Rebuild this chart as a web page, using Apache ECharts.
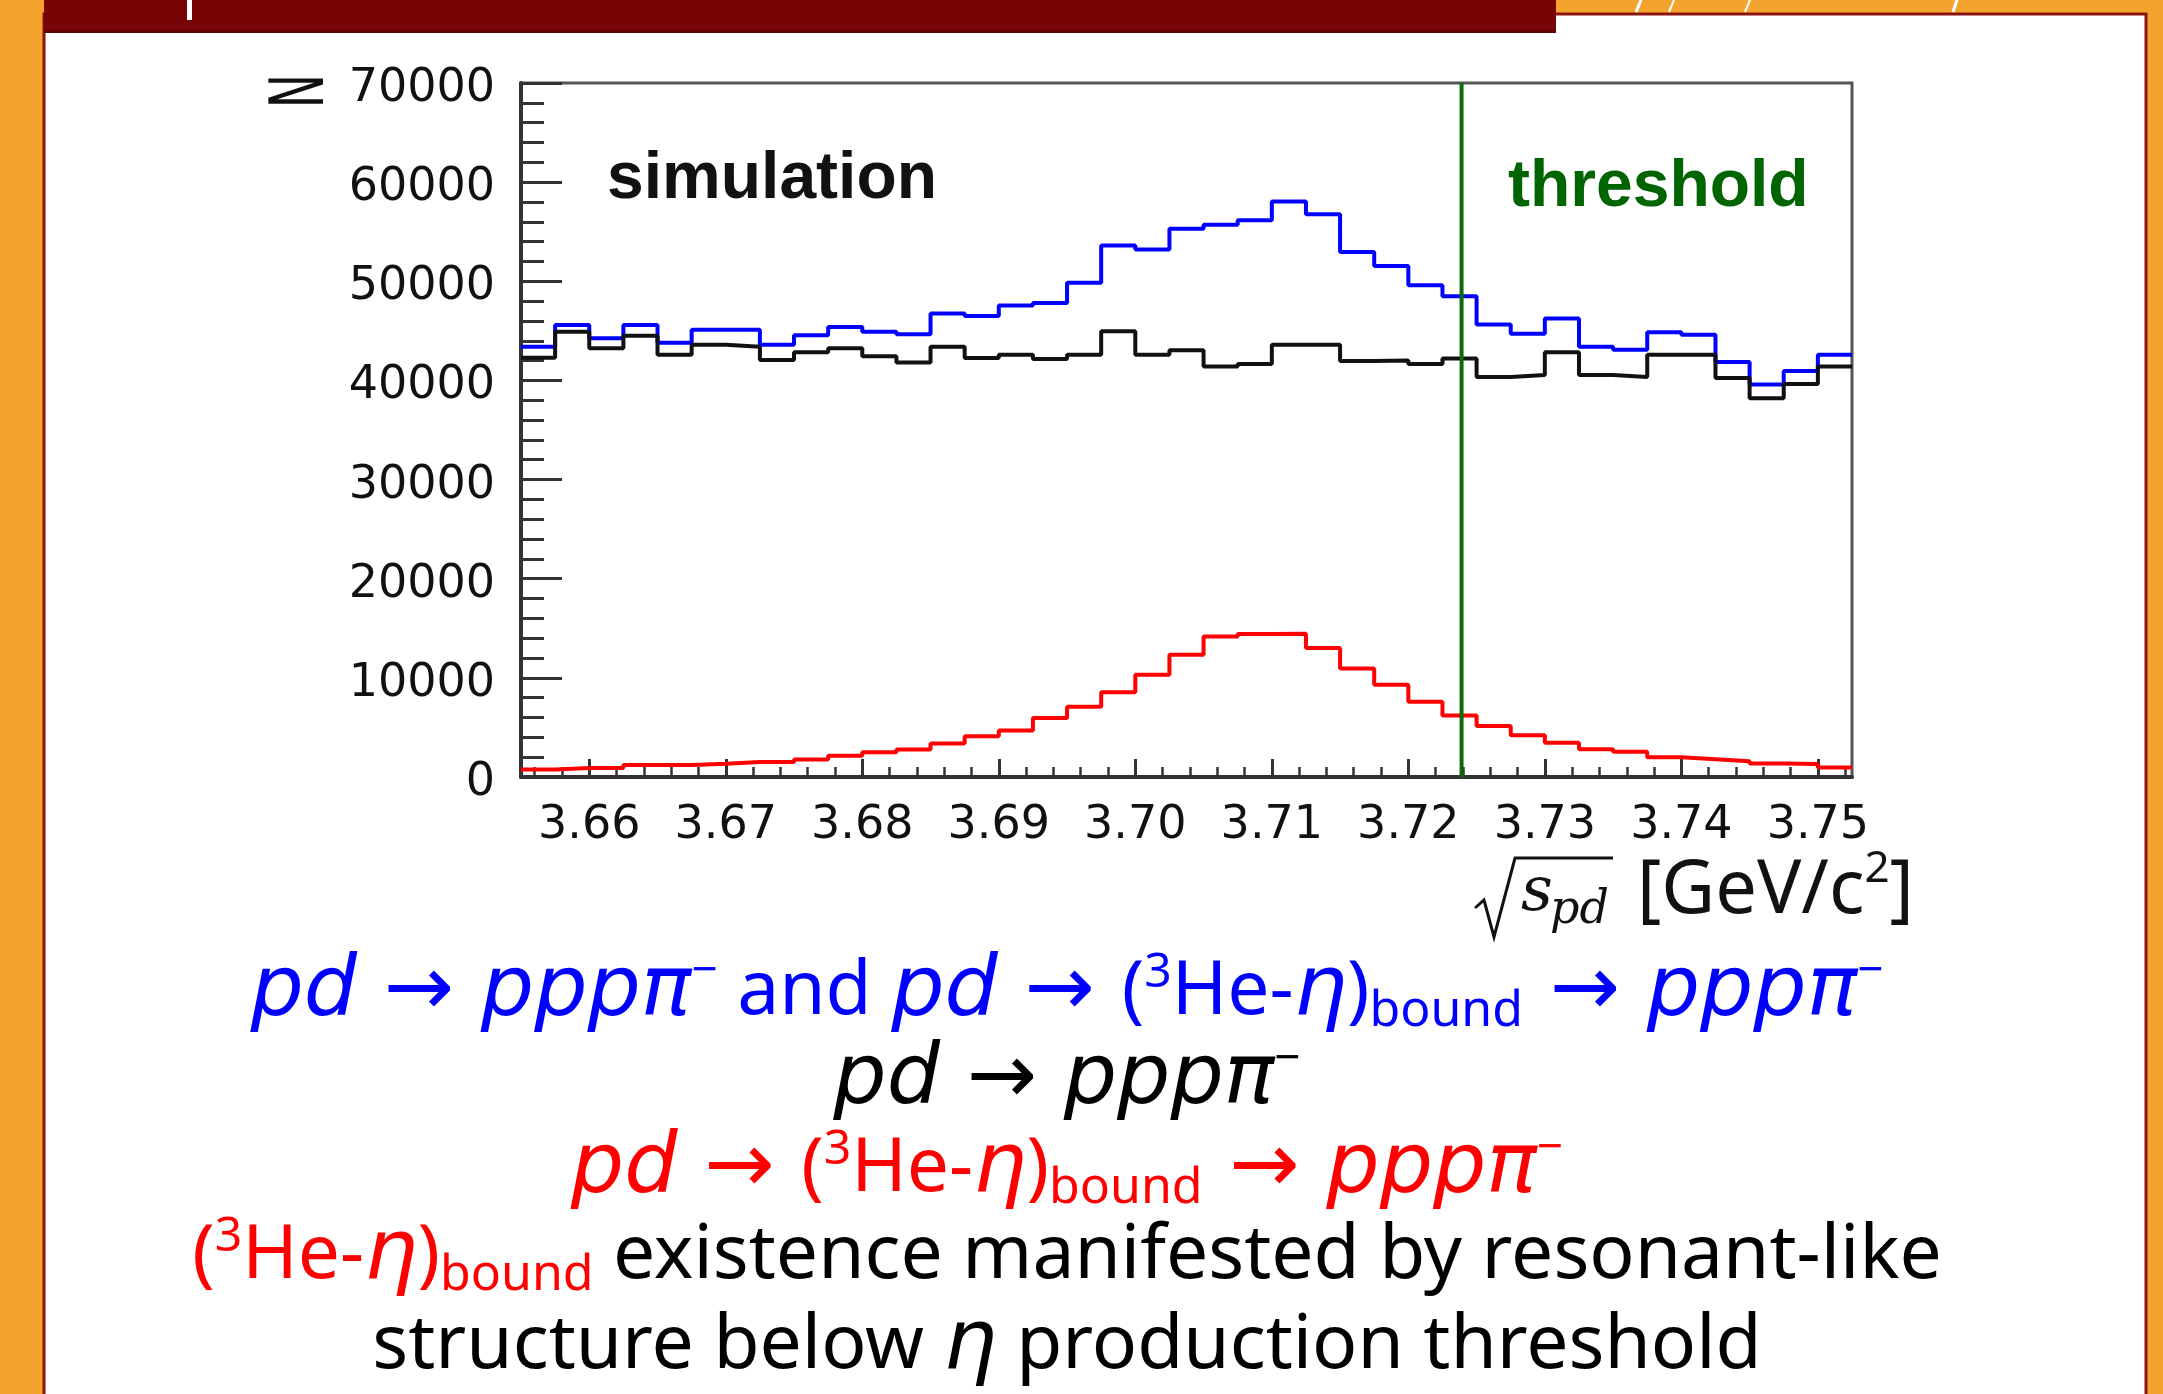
<!DOCTYPE html>
<html>
<head>
<meta charset="utf-8">
<title>pd -> ppp pi- simulation</title>
<script src="https://cdn.jsdelivr.net/npm/echarts@6/dist/echarts.min.js"></script>
<style>
  html, body { margin: 0; padding: 0; background: #f4a32f; }
  #chart { width: 2163px; height: 1394px; }
</style>
</head>
<body>
<div id="chart"></div>
<script>
// bin edges of sqrt(s_pd) [GeV/c^2]; last entry closes the last bin
const binEdges = [
  3.6550, 3.6575, 3.6600, 3.6625, 3.6650, 3.6675, 3.6700, 3.6725, 3.6750, 3.6775,
  3.6800, 3.6825, 3.6850, 3.6875, 3.6900, 3.6925, 3.6950, 3.6975, 3.7000, 3.7025,
  3.7050, 3.7075, 3.7100, 3.7125, 3.7150, 3.7175, 3.7200, 3.7225, 3.7250, 3.7275,
  3.7300, 3.7325, 3.7350, 3.7375, 3.7400, 3.7425, 3.7450, 3.7475, 3.7500, 3.7525
];

// blue: pd -> ppp pi- plus bound-state signal
const sumCounts = [
  43400, 45600, 44250, 45600, 43800, 45100, 45100, 43600, 44550, 45400,
  44900, 44650, 46750, 46500, 47550, 47800, 49850, 53600, 53200, 55300,
  55700, 56150, 58050, 56750, 52950, 51550, 49600, 48500, 45650, 44700,
  46250, 43400, 43100, 44850, 44600, 41850, 39600, 40950, 42600
];

// black: pd -> ppp pi- only
const bgCounts = [
  42300, 44900, 43250, 44500, 42600, 43600, 43400, 42050, 42850, 43250,
  42450, 41800, 43400, 42250, 42600, 42150, 42600, 44950, 42600, 43050,
  41400, 41650, 43600, 43600, 41950, 42000, 41650, 42200, 40350, 40550,
  42850, 40550, 40350, 42600, 42600, 40250, 38200, 39650, 41400
];

// red: pd -> (3He-eta)bound -> ppp pi-
const boundCounts = [
  750, 920, 920, 1200, 1200, 1330, 1520, 1520, 1770, 2150,
  2500, 2780, 3380, 4100, 4700, 5950, 7080, 8550, 10320, 12330,
  14180, 14420, 14450, 13000, 10950, 9300, 7600, 6200, 5150, 4200,
  3450, 2800, 2550, 2000, 1800, 1600, 1350, 1300, 950
];

const xTickLabels = [3.66, 3.67, 3.68, 3.69, 3.70, 3.71, 3.72, 3.73, 3.74, 3.75];
const yTickLabels = [0, 10000, 20000, 30000, 40000, 50000, 60000, 70000];
const thresholdX = 3.7239;

const xMinorTicks = [];
for (let k = 0; k <= 48; k++) xMinorTicks.push(+(3.656 + k * 0.002).toFixed(3));

// step-histogram points: left edge of every bin, plus the closing right edge
function histPoints(counts) {
  const pts = counts.map((v, i) => [binEdges[i], v]);
  pts.push([binEdges[counts.length], counts[counts.length - 1]]);
  return pts;
}

const FONT = "'Noto Sans', 'DejaVu Sans', sans-serif";
const ITAL = "'DejaVu Sans', sans-serif";
const TICK_FONT = "'DejaVu Sans', sans-serif";

function richFor(key, color) {
  const r = {};
  r['n' + key] = { fontFamily: FONT, fontSize: 75, lineHeight: 88, fill: color };
  r['i' + key] = { fontFamily: ITAL, fontSize: 84, lineHeight: 88, fontStyle: 'italic', fill: color };
  r['a' + key] = { fontFamily: ITAL, fontSize: 84, lineHeight: 88, fill: color };
  r['p' + key] = { fontFamily: FONT, fontSize: 48, lineHeight: 34, verticalAlign: 'top', fill: color };
  r['m' + key] = { fontFamily: FONT, fontSize: 46, lineHeight: 50, verticalAlign: 'top', fill: color };
  r['b' + key] = { fontFamily: FONT, fontSize: 50, lineHeight: 6, verticalAlign: 'bottom', fill: color };
  return r;
}
const rich = Object.assign({}, richFor('B', '#0000ff'), richFor('K', '#000000'), richFor('R', '#ff0000'));

function textLine(y, text) {
  return {
    type: 'text', x: 1067, y: y, z: 100,
    style: { text: text, rich: rich, align: 'center', verticalAlign: 'middle', fontFamily: FONT, fontSize: 75 }
  };
}

const chart = echarts.init(document.getElementById('chart'));

chart.setOption({
  backgroundColor: '#f4a32f',
  animation: false,
  grid: {
    left: 521, right: 311, top: 83, bottom: 617,
    show: true, backgroundColor: '#ffffff', borderColor: '#555555', borderWidth: 3
  },
  xAxis: [{
    type: 'value', min: 3.655, max: 3.7525,
    axisLine: { show: true, lineStyle: { color: '#333333', width: 4 } },
    axisTick: { show: true, inside: true, length: 18, customValues: xTickLabels, lineStyle: { color: '#333333', width: 3 } },
    axisLabel: {
      customValues: xTickLabels, margin: 26, fontSize: 46, fontFamily: TICK_FONT, color: '#111111',
      formatter: v => v.toFixed(2)
    },
    splitLine: { show: false }
  }, {
    type: 'value', min: 3.655, max: 3.7525, position: 'bottom',
    axisLine: { show: false },
    axisTick: { show: true, inside: true, length: 10, customValues: xMinorTicks, lineStyle: { color: '#333333', width: 2.5 } },
    axisLabel: { show: false },
    splitLine: { show: false }
  }],
  yAxis: {
    type: 'value', min: 0, max: 70000, interval: 10000,
    axisLine: { show: true, lineStyle: { color: '#333333', width: 4 } },
    axisTick: { show: true, inside: true, length: 41, lineStyle: { color: '#333333', width: 3 } },
    minorTick: { show: true, splitNumber: 5, length: 23, lineStyle: { color: '#333333', width: 3 } },
    axisLabel: {
      customValues: yTickLabels, margin: 26,
      formatter: v => '{v|' + v + '}',
      rich: { v: { fontSize: 46, fontFamily: TICK_FONT, color: '#111111', padding: [12, 0, 0, 0] } }
    },
    splitLine: { show: false }
  },
  series: [{
    name: 'pd → pppπ⁻ + bound', type: 'line', step: 'end', symbol: 'none',
    data: histPoints(sumCounts),
    lineStyle: { color: '#0000ff', width: 4 }, z: 3
  }, {
    name: 'pd → pppπ⁻', type: 'line', step: 'end', symbol: 'none',
    data: histPoints(bgCounts),
    lineStyle: { color: '#111111', width: 4 }, z: 4
  }, {
    name: 'bound', type: 'line', step: 'end', symbol: 'none',
    data: histPoints(boundCounts),
    lineStyle: { color: '#ff0000', width: 4 }, z: 4
  }, {
    name: 'threshold', type: 'line', symbol: 'none', silent: true,
    data: [[thresholdX, 0], [thresholdX, 70000]],
    lineStyle: { color: '#0b6b0b', width: 4 }, z: 5
  }],
  graphic: { elements: [
    // slide frame
    { type: 'rect', z: -10, shape: { x: 44, y: 14, width: 2102, height: 1400 },
      style: { fill: '#ffffff', stroke: '#8a1410', lineWidth: 3 } },
    { type: 'rect', z: -9, shape: { x: 44, y: 0, width: 1512, height: 32 },
      style: { fill: '#780505' } },
    { type: 'rect', z: -9, shape: { x: 44, y: 30, width: 1512, height: 3 },
      style: { fill: '#5e0202' } },
    { type: 'rect', z: -8, shape: { x: 187, y: 0, width: 5, height: 20 },
      style: { fill: '#ffffff' } },
    { type: 'line', z: -8, shape: { x1: 1641, y1: 0, x2: 1636, y2: 12 }, style: { stroke: '#ffffff', lineWidth: 3 } },
    { type: 'line', z: -8, shape: { x1: 1674, y1: 0, x2: 1669, y2: 12 }, style: { stroke: '#ffffff', lineWidth: 2 } },
    { type: 'line', z: -8, shape: { x1: 1750, y1: 0, x2: 1745, y2: 12 }, style: { stroke: '#ffffff', lineWidth: 2 } },
    { type: 'line', z: -8, shape: { x1: 1957, y1: 0, x2: 1953, y2: 12 }, style: { stroke: '#ffffff', lineWidth: 3 } },

    // labels inside the plot
    { type: 'text', x: 607, y: 180, z: 100,
      style: { text: 'simulation', fill: '#111111', fontFamily: "'Liberation Sans', Arial, sans-serif",
               fontWeight: 'bold', fontSize: 66, align: 'left', verticalAlign: 'middle' } },
    { type: 'text', x: 1508, y: 188, z: 100,
      style: { text: 'threshold', fill: '#006400', fontFamily: "'Liberation Sans', Arial, sans-serif",
               fontWeight: 'bold', fontSize: 66, align: 'left', verticalAlign: 'middle' } },

    // y axis title
    { type: 'text', x: 304, y: 91, z: 100, rotation: Math.PI / 2, scaleX: 0.62,
      style: { text: 'N', fill: '#111111', fontFamily: TICK_FONT, fontSize: 74, align: 'center', verticalAlign: 'middle' } },

    // x axis title: sqrt(s_pd) [GeV/c^2]
    { type: 'polyline', z: 100,
      shape: { points: [[1475, 908], [1484, 900], [1494, 937], [1515, 858], [1613, 858]] },
      style: { stroke: '#111111', lineWidth: 3, fill: null } },
    { type: 'text', x: 1521, y: 894, z: 100,
      style: { text: 's', fill: '#111111', fontFamily: "'DejaVu Serif', serif", fontStyle: 'italic',
               fontSize: 62, align: 'left', verticalAlign: 'middle' } },
    { type: 'text', x: 1550, y: 911, z: 100,
      style: { text: 'pd', fill: '#111111', fontFamily: "'DejaVu Serif', serif", fontStyle: 'italic',
               fontSize: 46, align: 'left', verticalAlign: 'middle' } },
    { type: 'text', x: 1637, y: 892, z: 100,
      style: {
        text: '{u|[GeV/c}{e|2}{u|]}', align: 'left', verticalAlign: 'middle',
        rich: {
          u: { fontFamily: FONT, fontSize: 74, lineHeight: 90, fill: '#111111' },
          e: { fontFamily: FONT, fontSize: 44, lineHeight: 58, verticalAlign: 'top', fill: '#111111' }
        }
      } },

    // caption lines
    textLine(993, '{iB|pd}{aB| → }{iB|pppπ}{mB|−}{nB| and }{iB|pd}{aB| → }{nB|(}{pB|3}{nB|He-}{iB|η}{nB|)}{bB|bound}{aB| → }{iB|pppπ}{mB|−}'),
    textLine(1081, '{iK|pd}{aK| → }{iK|pppπ}{mK|−}'),
    textLine(1170, '{iR|pd}{aR| → }{nR|(}{pR|3}{nR|He-}{iR|η}{nR|)}{bR|bound}{aR| → }{iR|pppπ}{mR|−}'),
    textLine(1257, '{nR|(}{pR|3}{nR|He-}{iR|η}{nR|)}{bR|bound}{nK| existence manifested by resonant-like}'),
    textLine(1347, '{nK|structure below }{iK|η}{nK| production threshold}')
  ] }
});
</script>
</body>
</html>
